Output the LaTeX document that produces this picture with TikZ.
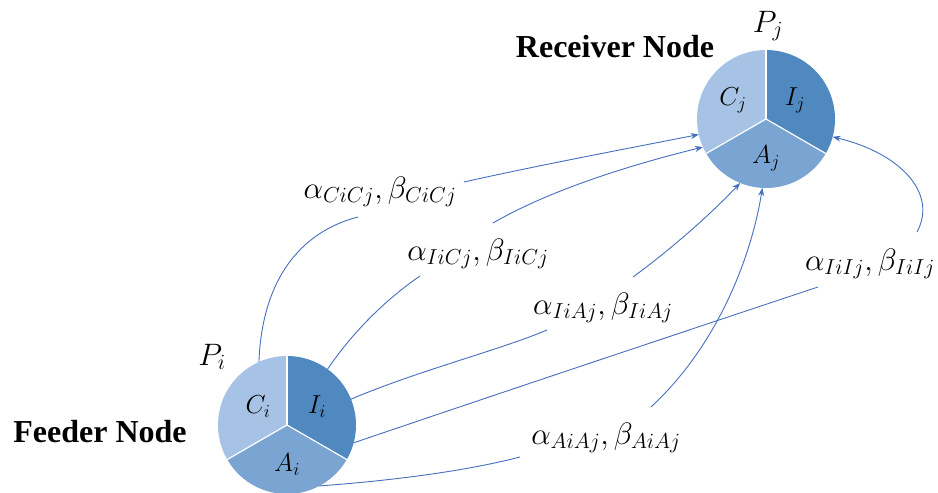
\RequirePackage{fix-cm}
\documentclass[tikz,border=0pt]{standalone}
\usepackage{fontspec}
\setmainfont{Liberation Serif}
\usetikzlibrary{arrows.meta}
\definecolor{secC}{RGB}{166,194,228}
\definecolor{secI}{RGB}{80,137,192}
\definecolor{secA}{RGB}{122,165,210}
\definecolor{lineblue}{RGB}{68,110,190}
\newcommand\mypie[1]{%
  \fill[secC] (#1.center) -- (#1.90) arc[start angle=90,end angle=210,radius=69pt] -- cycle;
  \fill[secI] (#1.center) -- (#1.-30) arc[start angle=-30,end angle=90,radius=69pt] -- cycle;
  \fill[secA] (#1.center) -- (#1.210) arc[start angle=210,end angle=330,radius=69pt] -- cycle;
  \draw[sep] (#1.center) -- (#1.90);
  \draw[sep] (#1.center) -- (#1.210);
  \draw[sep] (#1.center) -- (#1.330);
}
\begin{document}
\begin{tikzpicture}[x=1pt,y=1pt,
  conn/.style={draw=lineblue, line width=0.9pt},
  arr/.style={conn, -{Stealth[length=8pt,width=6pt]}},
  lbl/.style={inner sep=0pt, font=\fontsize{31}{36}\selectfont},
  titletext/.style={inner sep=0pt, font=\fontsize{32}{37}\selectfont\bfseries},
  pienode/.style={circle, minimum size=138pt, inner sep=0pt, outer sep=0pt},
  sep/.style={white, line width=1.2pt},
  seclbl/.style={inner sep=0pt, font=\fontsize{26}{30}\selectfont},
  plbl/.style={inner sep=0pt, font=\fontsize{31}{36}\selectfont}]
\useasboundingbox (0,0) rectangle (938,493);

% nodes
\node[pienode] (feeder) at (287,68) {};
\node[pienode] (recv) at (766,374) {};
\mypie{feeder}
\mypie{recv}

\node[seclbl] (Ci) at ([shift={(-29,18)}]feeder.center) {$C_i$};
\node[seclbl] (Ii) at ([shift={(30,18)}]feeder.center) {$I_i$};
\node[seclbl] (Ai) at ([shift={(0,-40)}]feeder.center) {$A_i$};
\node[seclbl] (Cj) at ([shift={(-33,19)}]recv.center) {$C_j$};
\node[seclbl] (Ij) at ([shift={(29,19)}]recv.center) {$I_j$};
\node[seclbl] (Aj) at ([shift={(0,-39)}]recv.center) {$A_j$};

\node[plbl] (Pi) at (212,136) {$P_i$};
\node[plbl] (Pj) at (768,467) {$P_j$};

\node[titletext] (rtitle) at (615,446) {Receiver Node};
\node[titletext] (ftitle) at (100,61) {Feeder Node};

% labels
\node[lbl] (L1) at (380,301) {$\alpha_{CiCj},\beta_{CiCj}$};
\node[lbl] (L2) at (478,239) {$\alpha_{IiCj},\beta_{IiCj}$};
\node[lbl] (L3) at (603,185) {$\alpha_{IiAj},\beta_{IiAj}$};
\node[lbl] (L4) at (870,229) {$\alpha_{IiIj},\beta_{IiIj}$};
\node[lbl] (L5) at (606,55) {$\alpha_{AiAj},\beta_{AiAj}$};

% connectors
\draw[conn] (feeder.114) .. controls (262,213) and (300,261) .. ([shift={(-22,-25)}]L1.center);
\draw[arr] ([shift={(84,10)}]L1.center) .. controls (540,328) and (620,343) .. (recv.193);

\draw[conn] (feeder.54) .. controls (352,160) and (385,193) .. ([shift={(-58,-22)}]L2.center);
\draw[arr] ([shift={(15,31)}]L2.center) .. controls (550,303) and (630,328) .. (recv.204);

\draw[conn] (feeder.22) .. controls (420,123) and (500,143) .. ([shift={(-56,-22)}]L3.center);
\draw[arr] ([shift={(30,31)}]L3.center) .. controls (670,243) and (710,278) .. (recv.248);

\draw[conn] (feeder.-15) .. controls (500,100) and (680,160) .. ([shift={(-52,-23)}]L4.center);
\draw[arr] ([shift={(47,32)}]L4.center) .. controls (938,300) and (900,340) .. (recv.-15);

\draw[conn] (feeder.-62) .. controls (400,13) and (470,23) .. ([shift={(-86,-19)}]L5.center);
\draw[arr] ([shift={(45,31)}]L5.center) .. controls (720,150) and (752,240) .. (recv.267);
\end{tikzpicture}
\end{document}
